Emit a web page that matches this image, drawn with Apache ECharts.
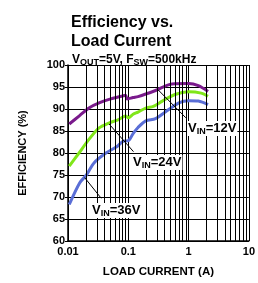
<!DOCTYPE html>
<html>
<head>
<meta charset="utf-8">
<script src="https://cdn.jsdelivr.net/npm/echarts@6/dist/echarts.min.js"></script>
<style>
html, body { margin: 0; padding: 0; background: #fff; }
#chart { width: 258px; height: 283px; }
</style>
</head>
<body>
<div id="chart"></div>
<script>
// 数据：负载电流 (A) 与效率 (%)
var load12 = [0.0105, 0.0156, 0.0226, 0.0328, 0.0512, 0.077, 0.09, 0.096, 0.12, 0.145, 0.283, 0.53, 1.0, 1.45, 2.1];
var eff12  = [86.6, 88.5, 90.3, 91.4, 92.3, 92.9, 93.1, 92.3, 92.6, 92.8, 94.2, 95.7, 95.8, 95.3, 94.0];

var load24 = [0.0105, 0.0145, 0.0226, 0.0328, 0.0476, 0.069, 0.09, 0.1, 0.12, 0.145, 0.195, 0.26, 0.367, 0.594, 1.0, 1.62, 2.1];
var eff24  = [77.0, 79.6, 83.2, 85.7, 86.8, 87.6, 88.4, 88.0, 88.8, 89.3, 90.2, 90.6, 91.8, 93.3, 93.9, 93.6, 92.9];

var load36 = [0.0105, 0.0156, 0.0202, 0.0272, 0.0426, 0.064, 0.083, 0.1, 0.12, 0.145, 0.195, 0.283, 0.41, 0.69, 1.0, 1.45, 2.1];
var eff36  = [68.3, 73.2, 75.0, 77.8, 80.0, 81.4, 82.7, 82.8, 84.4, 85.8, 87.3, 87.8, 89.3, 91.4, 91.9, 91.8, 91.0];

// x 轴次网格线
var minorX = [0.02, 0.03, 0.04, 0.05, 0.06, 0.07, 0.08, 0.09,
              0.2, 0.3, 0.4, 0.5, 0.6, 0.7, 0.8, 0.9,
              2, 3, 4, 5, 6, 7, 8, 9];

var FONT = "'Liberation Sans', Arial, sans-serif";

function pairs(xs, ys) {
	var out = [];
	for (var i = 0; i < xs.length; i++) {
		out.push([xs[i], ys[i]]);
	}
	return out;
}

function curve(name, color, xs, ys) {
	return {
		name: name,
		type: 'line',
		data: pairs(xs, ys),
		smooth: 0.3,
		showSymbol: false,
		lineStyle: { color: color, width: 3 },
		z: 3
	};
}

// 曲线标注文字
function vinLabel(text, left, top) {
	return {
		type: 'text', left: left, top: top, z: 10,
		style: {
			text: text, font: 'bold 13px ' + FONT, fill: '#000',
			backgroundColor: '#fff', padding: [0, 1, 0, 1],
			rich: { s: { font: 'bold 9px ' + FONT, fill: '#000', padding: [6, 0, 0, 0] } }
		}
	};
}

var myChart = echarts.init(document.getElementById('chart'), null, { renderer: 'canvas' });

var minorLines = [];
for (var i = 0; i < minorX.length; i++) {
	minorLines.push({ xAxis: minorX[i] });
}

var option = {
	animation: false,
	backgroundColor: '#fff',
	title: [{
		text: 'Efficiency vs.\nLoad Current',
		left: 66,
		top: 8,
		textStyle: { fontFamily: FONT, fontSize: 16, fontWeight: 'bold', color: '#000', lineHeight: 19 }
	}, {
		text: 'V{s|OUT}=5V, F{s|SW}=500kHz',
		left: 67,
		top: 48,
		textStyle: {
			fontFamily: FONT, fontSize: 12, color: '#000',
			rich: { s: { fontFamily: FONT, fontSize: 9, color: '#000', padding: [5, 0, 0, 0] } }
		}
	}],
	grid: { left: 68, top: 65, right: 5, bottom: 33, containLabel: false },
	xAxis: {
		type: 'log',
		logBase: 10,
		min: 0.01,
		max: 10,
		name: 'LOAD CURRENT (A)',
		nameLocation: 'middle',
		nameGap: 25,
		nameTextStyle: { fontFamily: FONT, fontSize: 11.5, fontWeight: 'bold', color: '#000' },
		axisLine: { show: true, lineStyle: { color: '#000', width: 1.5 } },
		axisTick: { show: false },
		axisLabel: {
			fontFamily: FONT, fontSize: 11, fontWeight: 'bold', color: '#000', margin: 5,
			formatter: function (v) { return String(v); }
		},
		splitLine: { show: true, lineStyle: { color: '#000', width: 1 } }
	},
	yAxis: {
		type: 'value',
		min: 60,
		max: 100,
		interval: 5,
		name: 'EFFICIENCY (%)',
		nameLocation: 'middle',
		nameRotate: 90,
		nameGap: 40,
		nameTextStyle: { fontFamily: FONT, fontSize: 11, fontWeight: 'bold', color: '#000' },
		axisLine: { show: true, lineStyle: { color: '#000', width: 1.5 } },
		axisTick: { show: true, inside: false, length: 3, lineStyle: { color: '#000' } },
		axisLabel: { fontFamily: FONT, fontSize: 11, fontWeight: 'bold', color: '#000', margin: 3 },
		splitLine: { show: true, lineStyle: { color: '#000', width: 1 } }
	},
	series: [
		{
			name: 'minor',
			type: 'line',
			data: [],
			silent: true,
			z: 1,
			markLine: {
				silent: true,
				symbol: ['none', 'none'],
				label: { show: false },
				lineStyle: { color: '#000', width: 1, type: 'solid' },
				data: minorLines
			}
		},
		{
			name: 'leaders',
			type: 'line',
			data: [],
			silent: true,
			z: 4,
			markLine: {
				silent: true,
				symbol: ['none', 'none'],
				label: { show: false },
				lineStyle: { color: '#000', width: 1, type: 'solid' },
				data: [
					[{ coord: [0.31, 94.4] }, { coord: [0.9, 88.0] }],
					[{ coord: [0.048, 86.6] }, { coord: [0.122, 80.3] }],
					[{ coord: [0.0189, 74.4] }, { coord: [0.0356, 69.7] }]
				]
			}
		},
		curve('VIN=12V', '#7a1a8c', load12, eff12),
		curve('VIN=24V', '#80e619', load24, eff24),
		curve('VIN=36V', '#5a6ed6', load36, eff36)
	],
	graphic: [
		vinLabel('V{s|IN}=12V', 187, 121),
		vinLabel('V{s|IN}=24V', 132, 155),
		vinLabel('V{s|IN}=36V', 91, 203)
	]
};

myChart.setOption(option);
</script>
</body>
</html>
